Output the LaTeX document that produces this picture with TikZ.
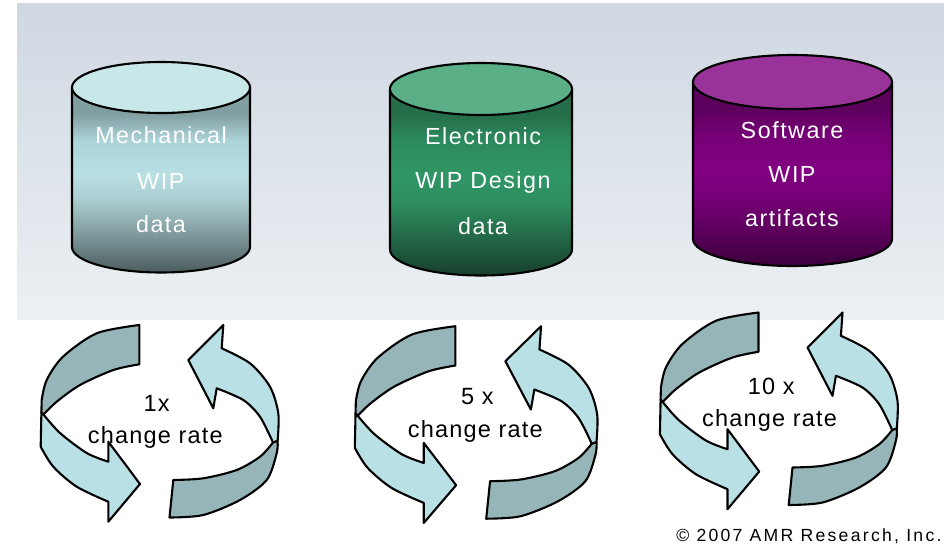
\documentclass[tikz,border=0pt]{standalone}
\usepackage{fontspec}
\setmainfont{Liberation Sans}
\newfontfamily\cylfont[LetterSpace=6.5]{Liberation Sans}
\newfontfamily\ringfont[LetterSpace=5]{Liberation Sans}
\newfontfamily\notefont[LetterSpace=13]{Liberation Sans}

% panel
\definecolor{panelTop}{RGB}{207,215,225}
\definecolor{panelBot}{RGB}{236,240,244}
% mechanical cylinder
\definecolor{mechCap}{RGB}{200,231,233}
\definecolor{mA}{RGB}{76,92,94}
\definecolor{mB}{RGB}{98,119,121}
\definecolor{mC}{RGB}{139,168,171}
\definecolor{mD}{RGB}{169,204,207}
\definecolor{mE}{RGB}{184,223,227}
\definecolor{mF}{RGB}{172,211,215}
\definecolor{mG}{RGB}{129,158,161}
% electronic cylinder
\definecolor{elecCap}{RGB}{91,175,134}
\definecolor{eA}{RGB}{24,63,44}
\definecolor{eB}{RGB}{35,106,72}
\definecolor{eC}{RGB}{45,140,94}
\definecolor{eD}{RGB}{48,150,101}
\definecolor{eE}{RGB}{44,138,92}
\definecolor{eF}{RGB}{37,110,73}
% software cylinder
\definecolor{softCap}{RGB}{153,51,153}
\definecolor{sA}{RGB}{60,0,60}
\definecolor{sB}{RGB}{88,0,88}
\definecolor{sC}{RGB}{117,0,117}
\definecolor{sD}{RGB}{130,0,130}
\definecolor{sE}{RGB}{118,0,118}
\definecolor{sF}{RGB}{92,0,92}
% cycle arrows
\definecolor{ringLight}{RGB}{185,224,228}
\definecolor{ringDark}{RGB}{150,181,184}

\pgfdeclareverticalshading{mechbody}{100bp}{color(0bp)=(mA); color(25bp)=(mA);
  color(29.7bp)=(mB); color(37.8bp)=(mC); color(44.6bp)=(mD); color(51.4bp)=(mE);
  color(60.8bp)=(mF); color(68bp)=(mG); color(100bp)=(mG)}
\pgfdeclareverticalshading{elecbody}{100bp}{color(0bp)=(eA); color(25bp)=(eA);
  color(35.9bp)=(eB); color(43.9bp)=(eC); color(52bp)=(eD);
  color(61.3bp)=(eE); color(68bp)=(eF); color(100bp)=(eF)}
\pgfdeclareverticalshading{softbody}{100bp}{color(0bp)=(sA); color(25bp)=(sA);
  color(33.4bp)=(sB); color(42.9bp)=(sC); color(51.1bp)=(sD);
  color(60.6bp)=(sE); color(68bp)=(sF); color(100bp)=(sF)}

\tikzset{
  outline/.style={draw=black, line width=2.1pt, line join=round},
  cyltext/.style={text=white, inner sep=0pt, anchor=base,
    font=\cylfont\fontsize{23.3}{28}\selectfont},
  ringtext/.style={text=black, inner sep=0pt, anchor=base,
    font=\ringfont\fontsize{23.5}{28}\selectfont},
  % a pair of twisted ribbon arrows chasing each other round an ellipse,
  % drawn about the centre of the ring
  ringpair/.pic={
    \begin{scope}[shift={(-159.5,-423.3)}]
      % left arrow, front face
      \path[outline, fill=ringLight]
        (43.5,414.5) -- plot[smooth] coordinates {(43.5,414.5) (60,433) (86.7,453) (108.3,461.7)}
        -- (108.3,441.7) -- (140,484) -- (108.3,521.7) -- (108.3,501.7)
        -- plot[smooth] coordinates {(108.3,501.7) (76.7,486.7) (53.3,466.7) (40.7,446.7)}
        -- (41.4,412) -- cycle;
      % left arrow, back face
      \path[outline, fill=ringDark]
        (139.3,325) -- plot[smooth] coordinates {(139.3,325) (96.7,333.3) (63,356.7) (46.7,380) (41.7,400)}
        -- (41.4,412) -- (43.5,414.5)
        -- plot[smooth] coordinates {(43.5,414.5) (56.7,401.7) (80,385) (113.3,370) (139.3,364.3)}
        -- cycle;
      % right arrow, front face
      \path[outline, fill=ringLight]
        (273,442.5) -- plot[smooth] coordinates {(273,442.5) (260,416.7) (243.3,400) (216.7,388.3)}
        -- (213.3,408.3) -- (188.3,360) -- (223.3,325) -- (221.7,348.3)
        -- plot[smooth] coordinates {(221.7,348.3) (250,363.3) (270,386.7) (278.3,413.3) (277.6,441)}
        -- cycle;
      % right arrow, back face
      \path[outline, fill=ringDark]
        (173.3,480) -- (169.5,517.5)
        -- plot[smooth] coordinates {(169.5,517.5) (203.3,515) (240,500) (266.7,480) (276.7,453.3) (277.6,441)}
        -- (273,442.5)
        -- plot[smooth] coordinates {(273,442.5) (260,456.7) (236.7,470) (203.3,478.3) (173.3,480)}
        -- cycle;
    \end{scope}
  }
}

% cylinder: #1 centre x, #2 top-ellipse centre y, #3 bottom-ellipse centre y,
% #4 x radius, #5 y radius, #6 body shading, #7 cap colour
\newcommand{\drumshape}[7]{%
  \path[outline, shading=#6]
    (#1-#4,#2) -- (#1-#4,#3) arc[start angle=180, end angle=0, x radius=#4, y radius=#5]
    -- (#1+#4,#2) -- cycle;
  \path[outline, fill=#7] (#1,#2) ellipse[x radius=#4, y radius=#5];
}

\begin{document}
\begin{tikzpicture}[x=1pt, y=-1pt]
\useasboundingbox (0,0) rectangle (944,544);
\fill[white] (0,0) rectangle (944,544);

% backdrop behind the three stores
\shade[top color=panelTop, bottom color=panelBot] (17,3) rectangle (944,319.3);

% the three stores
\drumshape{161}{87.5}{247}{89}{25.5}{mechbody}{mechCap}
\drumshape{481}{89}{249.5}{91}{26}{elecbody}{elecCap}
\drumshape{792.5}{82}{239}{99.5}{27}{softbody}{softCap}

\node[cyltext] (mech1) at (161,143.3) {Mechanical};
\node[cyltext] (mech2) at (161,189) {WIP};
\node[cyltext] (mech3) at (161,232) {data};

\node[cyltext] (elec1) at (483,144.3) {Electronic};
\node[cyltext] (elec2) at (483,188.5) {WIP Design};
\node[cyltext] (elec3) at (483,234) {data};

\node[cyltext] (soft1) at (792,138.3) {Software};
\node[cyltext] (soft2) at (792,182.7) {WIP};
\node[cyltext] (soft3) at (792,226.7) {artifacts};

% change-rate cycles
\pic (cycleA) at (159.5,423.3) {ringpair};
\pic[xscale=1.02] (cycleB) at (476,424.5) {ringpair};
\pic (cycleC) at (778.7,410.8) {ringpair};

\node[ringtext] (rateA1) at (156.7,411.7) {1x};
\node[ringtext] (rateA2) at (155.3,443.3) {change rate};
\node[ringtext] (rateB1) at (477.5,404.3) {5 x};
\node[ringtext] (rateB2) at (475.3,437.3) {change rate};
\node[ringtext] (rateC1) at (771.3,394.3) {10 x};
\node[ringtext] (rateC2) at (769.5,426.7) {change rate};

\node[inner sep=0pt, anchor=base east, font=\notefont\fontsize{17.6}{20}\selectfont]
  (credit) at (941.7,541) {© 2007 AMR Research, Inc.};
\end{tikzpicture}
\end{document}
